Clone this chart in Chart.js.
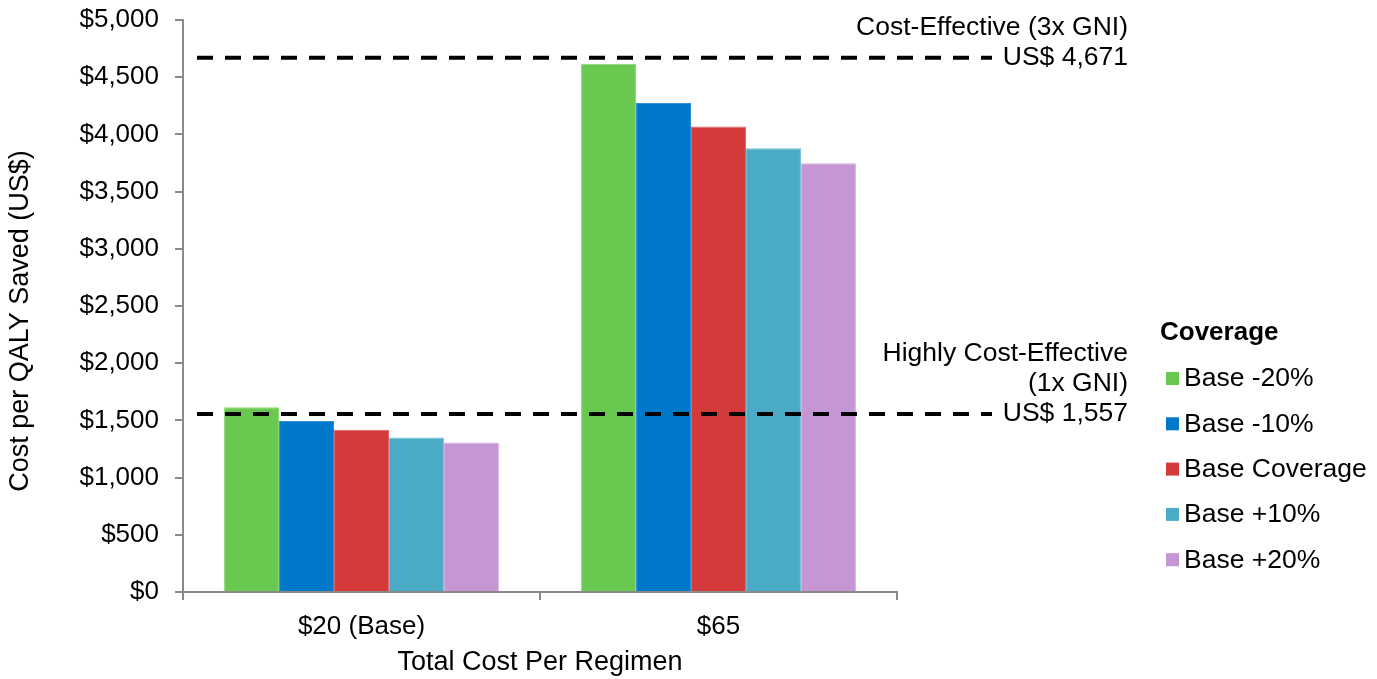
<!DOCTYPE html>
<html>
<head>
<meta charset="utf-8">
<script src="https://cdn.jsdelivr.net/npm/chart.js@4/dist/chart.umd.min.js"></script>
<style>
  html, body { margin: 0; padding: 0; background: #ffffff; }
  #wrap { width: 1377px; height: 679px; }
</style>
</head>
<body>
<div id="wrap"><canvas id="chart" width="1377" height="679"></canvas></div>
<script>
// Regimen cost categories on the x axis
const regimenCosts = ['$20 (Base)', '$65'];

// Coverage scenarios (legend entries)
const coverageLabels = ['Base -20%', 'Base -10%', 'Base Coverage', 'Base +10%', 'Base +20%'];

// Cost per QALY saved (US$) for each coverage scenario, per regimen cost
const baseMinus20 = [1616, 4618];
const baseMinus10 = [1494, 4275];
const baseCoverage = [1418, 4068];
const basePlus10 = [1351, 3879];
const basePlus20 = [1307, 3748];

// Willingness-to-pay thresholds and their captions
const thresholdValues = [4671, 1557];
const thresholdCaptions = [['Cost-Effective (3x GNI)'], ['Highly Cost-Effective', '(1x GNI)']];

// Y axis range and step
const yTickMin = 0;
const yTickMax = 5000;
const yTickStep = 500;

const seriesValues = [baseMinus20, baseMinus10, baseCoverage, basePlus10, basePlus20];
const seriesColors = ['#69c84f', '#0078c9', '#d53a3a', '#4babc6', '#c595d4'];
const seriesEdges = ['#8ad877', '#2b90d6', '#e26262', '#72c0d4', '#d5addf'];

const FONT = '"Liberation Sans", Arial, Helvetica, sans-serif';
const AXIS_GREY = '#8a8a8a';
const Y_TITLE = 'Cost per QALY Saved (US$)';

const money = v => '$' + Number(v).toLocaleString('en-US');

// Dashed threshold lines with right-aligned captions
const thresholdPlugin = {
  id: 'thresholds',
  afterDatasetsDraw(chart) {
    const { ctx } = chart;
    const y = chart.scales.y;
    const x0 = chart.chartArea.left + 14;
    const x1 = 992;
    const textRight = 1128;
    const lineGap = 30;
    ctx.save();
    thresholdValues.forEach((v, i) => {
      const py = y.getPixelForValue(v);
      ctx.setLineDash([16, 12]);
      ctx.lineWidth = 4;
      ctx.strokeStyle = '#000000';
      ctx.beginPath();
      ctx.moveTo(x0, py);
      ctx.lineTo(x1, py);
      ctx.stroke();
      const lines = thresholdCaptions[i].concat(['US$ ' + v.toLocaleString('en-US')]);
      ctx.setLineDash([]);
      ctx.fillStyle = '#000000';
      ctx.font = '26.5px ' + FONT;
      ctx.textAlign = 'right';
      ctx.textBaseline = 'middle';
      lines.forEach((t, k) => {
        ctx.fillText(t, textRight, py - (lines.length - 1 - k) * lineGap);
      });
    });
    ctx.restore();
  }
};

// Rotated y-axis title and the coverage legend on the right
const sideText = {
  id: 'sideText',
  afterDraw(chart) {
    const { ctx } = chart;
    ctx.save();
    ctx.fillStyle = '#000000';
    ctx.font = '27px ' + FONT;
    ctx.textAlign = 'center';
    ctx.textBaseline = 'middle';
    ctx.translate(21, 321);
    ctx.rotate(-Math.PI / 2);
    ctx.fillText(Y_TITLE, 0, 0);
    ctx.restore();

    const left = 1160;
    ctx.save();
    ctx.fillStyle = '#000000';
    ctx.font = 'bold 26px ' + FONT;
    ctx.textAlign = 'left';
    ctx.textBaseline = 'middle';
    ctx.fillText('Coverage', left, 333);
    ctx.font = '26.5px ' + FONT;
    chart.data.datasets.forEach((ds, i) => {
      const cy = 379 + i * 45.3;
      ctx.fillStyle = ds.backgroundColor;
      ctx.fillRect(left + 6, cy - 7, 13, 13);
      ctx.fillStyle = '#000000';
      ctx.fillText(ds.label, left + 24, cy);
    });
    ctx.restore();
  }
};

new Chart(document.getElementById('chart'), {
  type: 'bar',
  data: {
    labels: regimenCosts,
    datasets: coverageLabels.map((label, i) => ({
      label,
      data: seriesValues[i],
      backgroundColor: seriesColors[i],
      borderColor: seriesEdges[i],
      borderWidth: 1,
      categoryPercentage: 0.77,
      barPercentage: 1.0
    }))
  },
  options: {
    responsive: false,
    devicePixelRatio: 1,
    animation: false,
    layout: { padding: { left: 0, right: 480, top: 20, bottom: 0 } },
    plugins: {
      legend: { display: false },
      tooltip: { enabled: false }
    },
    scales: {
      x: {
        afterFit(s) { s.height = 87; s.paddingLeft = 0; s.paddingRight = 0; },
        grid: { drawOnChartArea: false, drawTicks: true, tickLength: 8, color: AXIS_GREY, lineWidth: 2 },
        border: { color: AXIS_GREY, width: 2 },
        ticks: { color: '#000000', font: { family: FONT, size: 26 }, padding: 11 },
        title: {
          display: true,
          text: 'Total Cost Per Regimen',
          color: '#000000',
          font: { family: FONT, size: 27 },
          padding: { top: 0, bottom: 0 }
        }
      },
      y: {
        min: yTickMin,
        max: yTickMax,
        afterFit(s) { s.width = 183; s.paddingTop = 0; s.paddingBottom = 0; },
        grid: { drawOnChartArea: false, drawTicks: true, tickLength: 8, color: AXIS_GREY, lineWidth: 2 },
        border: { color: AXIS_GREY, width: 2 },
        ticks: {
          stepSize: yTickStep,
          color: '#000000',
          font: { family: FONT, size: 26 },
          padding: 16,
          callback: v => money(v)
        }
      }
    }
  },
  plugins: [thresholdPlugin, sideText]
});
</script>
</body>
</html>
